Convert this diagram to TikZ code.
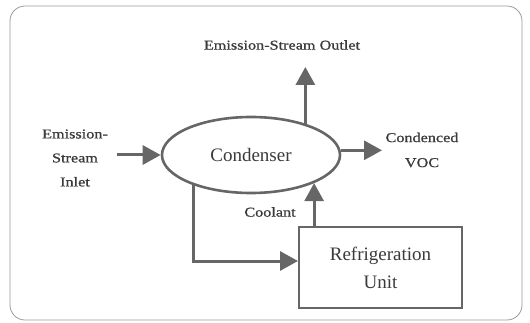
\documentclass[tikz,border=0pt]{standalone}
\usepackage{fontspec}
\setmainfont{Liberation Serif}
\newfontfamily\labfont{Liberation Serif}[FakeStretch=1.2,FakeBold=0.8]
\usetikzlibrary{arrows.meta,shapes.geometric}
\definecolor{ln}{HTML}{666666}
\definecolor{tx}{HTML}{3A3A3A}
\definecolor{frame}{HTML}{9A9A9A}
\begin{document}
\begin{tikzpicture}[x=1pt,y=-1pt,
  arr/.style={draw=ln,line width=3pt,-{Triangle[length=18pt,width=19pt]}},
  lab/.style={text=tx,font=\labfont\fontsize{13.5}{24}\selectfont,align=center,inner sep=0pt},
  big/.style={text=tx,font=\fontsize{19}{28}\selectfont,align=center}]
\useasboundingbox (0,0) rectangle (530,323);
\draw[frame,line width=0.8pt,rounded corners=15pt] (10,6) rectangle (522,320);
\node[ellipse,draw=ln,line width=2.6pt,minimum width=178pt,minimum height=76pt,inner sep=0pt,big] (cond) at (251,155) {Condenser};
\node[draw=ln,line width=2pt,minimum width=163pt,minimum height=81pt,inner sep=0pt,big] (ru) at (380.5,267.5) {Refrigeration\\Unit};
\node[lab] (out) at (282,45) {Emission-Stream Outlet};
\node[lab] (inl) at (75,158) {Emission-\\Stream\\Inlet};
\node[lab,font=\labfont\fontsize{13.5}{25}\selectfont] (voc) at (422,150) {Condenced\\VOC};
\node[lab] (cool) at (270,212) {Coolant};
\coordinate (inA) at (117,155);
\coordinate (outA) at (304,67);
\coordinate (vocA) at (382,152);
\draw[arr] (inA) -- (cond.west);
\draw[arr] (cond.30) -- (cond.30 |- outA);
\draw[arr] (cond.3) -- (cond.3 -| vocA);
\draw[arr] (cond.-24 |- ru.north) -- (cond.-24);
\draw[arr] (cond.208) |- ([yshift=6.5pt]ru.west);
\end{tikzpicture}
\end{document}
